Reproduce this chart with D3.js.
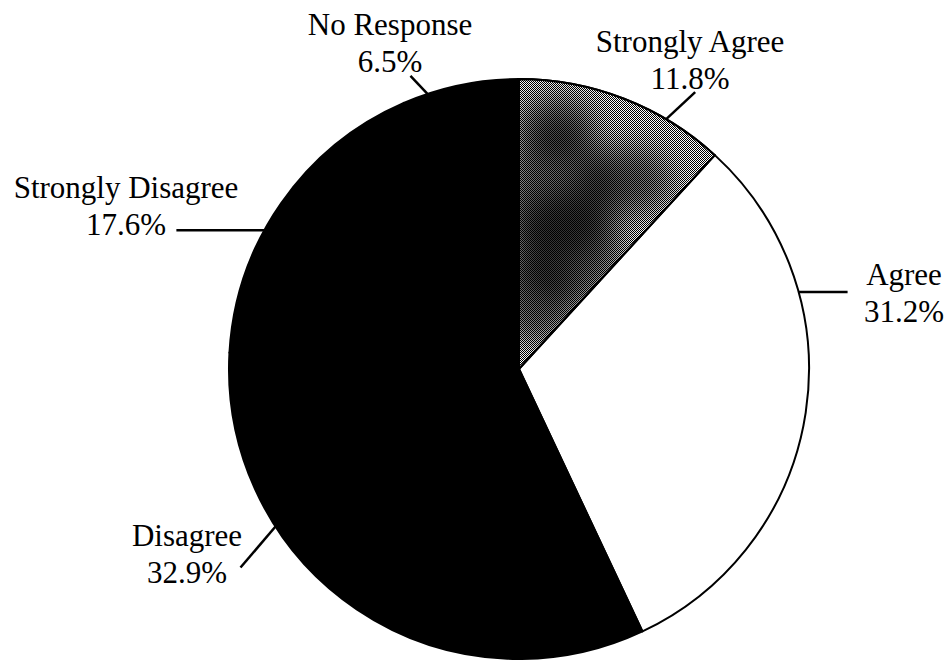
<!DOCTYPE html>
<html>
<head>
<meta charset="utf-8">
<script src="https://cdn.jsdelivr.net/npm/d3@7"></script>
<style>
  html, body { margin: 0; padding: 0; background: #fff; }
  svg { display: block; }
</style>
</head>
<body>
<svg id="chart" width="947" height="660"></svg>
<script>
// ---- data ----
const categories = ["Strongly Agree", "Agree", "Disagree", "Strongly Disagree", "No Response"];
const values = [11.8, 31.2, 32.9, 17.6, 6.5];
const fills = ["url(#stipple)", "#ffffff", "#000000", "#000000", "#000000"];

// ---- layout (label anchors / text placement) ----
const labelAnchorDeg = [30.5, 74.6, 237.1, 298.6, 341.6];
const leaderOffset = [[29, -27], [49, 0], [-35, 41], [-88, 0], [-17, -18]];
const labelPos = [[690, 52], [904, 285], [187, 546], [126, 198], [390, 35]];

const W = 947, H = 660;
const cx = 519, cy = 369, R = 290;

const svg = d3.select("#chart");
const defs = svg.append("defs");
const pat = defs.append("pattern")
  .attr("id", "stipple").attr("patternUnits", "userSpaceOnUse")
  .attr("width", 2).attr("height", 2);
pat.append("rect").attr("width", 2).attr("height", 2).attr("fill", "#ffffff");
pat.append("rect").attr("x", 0).attr("y", 0).attr("width", 1).attr("height", 1).attr("fill", "#000");
pat.append("rect").attr("x", 1).attr("y", 1).attr("width", 1).attr("height", 1).attr("fill", "#000");
defs.append("filter").attr("id", "blur")
  .attr("x", "-50%").attr("y", "-50%").attr("width", "200%").attr("height", "200%")
  .append("feGaussianBlur").attr("stdDeviation", 14);

const pie = d3.pie().sort(null).value(d => d.value);
const data = categories.map((c, i) => ({ name: c, value: values[i], fill: fills[i] }));
const arcs = pie(data);
const arc = d3.arc().innerRadius(0).outerRadius(R);

const g = svg.append("g").attr("transform", `translate(${cx},${cy})`);
g.selectAll("path.slice")
  .data(arcs)
  .join("path")
  .attr("class", "slice")
  .attr("d", arc)
  .attr("fill", d => d.data.fill)
  .attr("stroke", "#000")
  .attr("stroke-width", 2)
  .attr("stroke-linejoin", "round");

// darker mottling inside the stippled slice, placed from the slice's own geometry
const sa = arcs[0];
defs.append("clipPath").attr("id", "saClip").append("path").attr("d", arc(sa));
const mot = g.append("g").attr("clip-path", "url(#saClip)");
[[0.3, 0.62, 55, 70], [0.5, 0.45, 55, 55], [0.3, 0.25, 40, 45], [0.7, 0.75, 45, 35], [0.2, 0.85, 40, 30]].forEach(([t, rf, rx, ry]) => {
  const ang = sa.startAngle + (sa.endAngle - sa.startAngle) * t;
  const rr = R * rf;
  mot.append("ellipse")
    .attr("cx", rr * Math.sin(ang)).attr("cy", -rr * Math.cos(ang))
    .attr("rx", rx).attr("ry", ry)
    .attr("fill", "#000").attr("opacity", 0.55)
    .attr("filter", "url(#blur)");
});
g.append("path").attr("d", arc(sa)).attr("fill", "none").attr("stroke", "#000").attr("stroke-width", 2);

const fmt = v => d3.format(".1f")(v) + "%";
const toRad = d => d * Math.PI / 180;

categories.forEach((c, i) => {
  const a = toRad(labelAnchorDeg[i]);
  const x0 = cx + R * Math.sin(a), y0 = cy - R * Math.cos(a);
  const x1 = x0 + leaderOffset[i][0], y1 = y0 + leaderOffset[i][1];
  svg.append("line")
    .attr("x1", x0).attr("y1", y0).attr("x2", x1).attr("y2", y1)
    .attr("stroke", "#000").attr("stroke-width", 2.5);
  const t = svg.append("text")
    .attr("x", labelPos[i][0]).attr("y", labelPos[i][1])
    .attr("text-anchor", "middle")
    .attr("font-family", "'Liberation Serif', 'Times New Roman', serif")
    .attr("font-size", 31)
    .attr("fill", "#000");
  t.append("tspan").attr("x", labelPos[i][0]).text(c);
  t.append("tspan").attr("x", labelPos[i][0]).attr("dy", 37).text(fmt(values[i]));
});
</script>
</body>
</html>
